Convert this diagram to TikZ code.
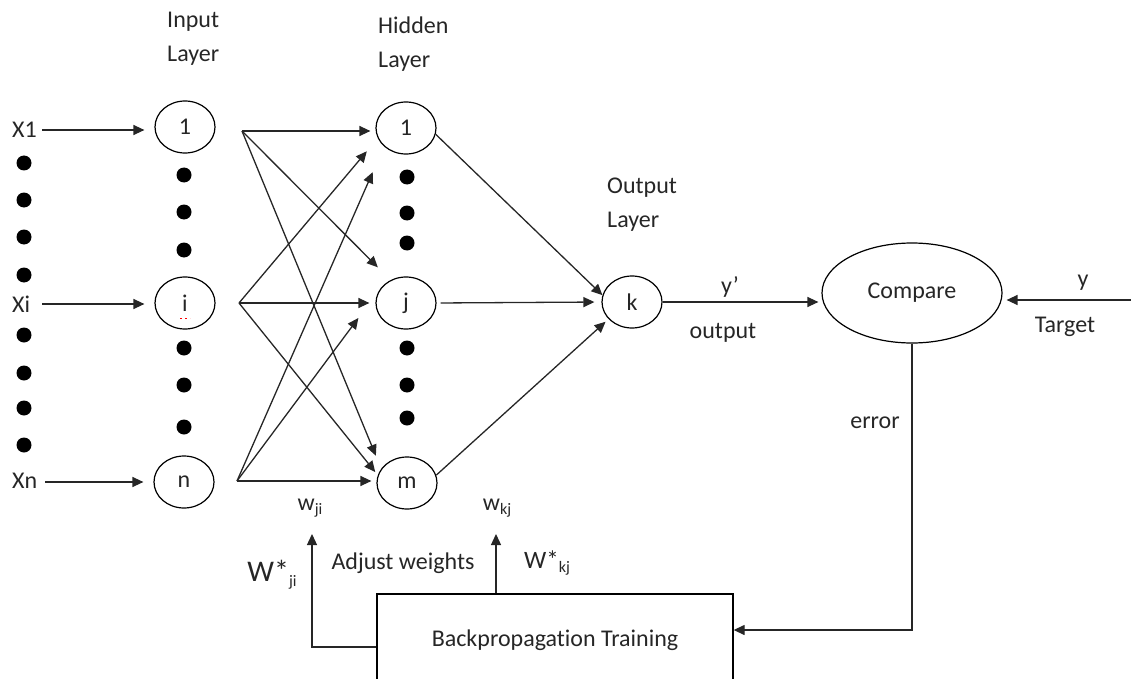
\documentclass[tikz,border=0pt]{standalone}
\usepackage{fontspec}
\setmainfont[Ligatures=NoCommon]{Carlito}
\usetikzlibrary{arrows.meta,shapes.geometric,calc}
% lowered small text for index subscripts
\newcommand\lowidx[1]{\raisebox{-0.35ex}{\fontsize{16}{16}\selectfont #1}}
\begin{document}
\begin{tikzpicture}[x=1pt,y=-1pt,
  every node/.style={font=\fontsize{24}{34}\selectfont, inner sep=0pt, text=black!85},
  unit/.style={draw, ellipse, minimum width=60, minimum height=52, line width=1.2pt},
  arr/.style={line width=1.3pt, draw=black!85, -{Triangle[length=11pt,width=10pt]}},
  dot/.style={circle, fill=black, minimum size=15, inner sep=0pt},
  lbl/.style={align=left, anchor=west},
]
\useasboundingbox (0,0) rectangle (1131,679);

% layer titles
\node[lbl] (inlab)  at (167,39)    {Input\\Layer};
\node[lbl] (hidlab) at (378,44)    {Hidden\\Layer};
\node[lbl] (outlab) at (607,204.5) {Output\\Layer};

% input signals
\node[anchor=west] (x1) at (12,130) {X1};
\node[anchor=west] (xi) at (12,304) {Xi};
\node[anchor=west] (xn) at (12,481) {Xn};

% input units
\node[unit] (i1) at (185,127) {1};
\node[unit] (ii) at (185,303) {i};
\node[unit] (in) at (184,482) {n};
\draw[red, line width=1pt, dash pattern=on 2pt off 3pt] (180,318) -- (190,318);

% hidden units
\node[unit] (h1) at (406,128) {1};
\node[unit] (hj) at (406,303) {j};
\node[unit] (hm) at (407,483) {m};

% output unit and comparator
\node[unit] (k) at (632,302) {k};
\node[draw, ellipse, minimum width=180, minimum height=100, line width=1.2pt] (cmp) at (912,293) {Compare};

% training block
\node[draw, line width=1.3pt, minimum width=356, minimum height=92] (bp) at (555,640) {Backpropagation Training};

% ellipsis dots
\foreach \y [count=\n] in {163,200,237,275,335,373,408,445}
  \node[dot] (ld\n) at (24,\y) {};
\foreach \y [count=\n] in {175,212,250,348,385,427}
  \node[dot] (id\n) at (184,\y) {};
\foreach \y [count=\n] in {177,213,243,348,385,418}
  \node[dot] (hd\n) at (407,\y) {};

% input arrows
\coordinate (sx1) at (42,130);
\coordinate (sxi) at (42,304);
\coordinate (sxn) at (45,482);
\draw[arr, shorten >=10pt] (sx1) -- (sx1 -| i1.west);
\draw[arr, shorten >=10pt] (sxi) -- (sxi -| ii.west);
\draw[arr, shorten >=10pt] (sxn) -- (sxn -| in.west);

% fan-out points right of each input unit
\coordinate (o1) at (242,131);
\coordinate (oi) at (239,303);
\coordinate (on) at (237,481);

% input -> hidden weights
\draw[arr, shorten >=5pt]  (o1) -- (o1 -| h1.west);
\draw[arr, shorten >=18pt] (o1) -- (hj.124);
\draw[arr, shorten >=14pt] (o1) -- (hm.151);
\draw[arr, shorten >=17pt] (oi) -- (h1.200);
\draw[arr, shorten >=6pt]  (oi) -- (oi -| hj.west);
\draw[arr, shorten >=4pt]  (oi) -- (hm.165);
\draw[arr, shorten >=28pt] (on) -- (h1.220);
\draw[arr, shorten >=37pt] (on) -- (hj.150);
\draw[arr, shorten >=5pt]  (on) -- (on -| hm.west);

% hidden -> output
\draw[arr] (h1.348) -- (k.167);
\draw[arr, shorten <=4pt, shorten >=7pt] (hj.east) -- (k.west);
\draw[arr, shorten >=4pt] (hm.15) -- (k.216);

% output -> comparator, target -> comparator
\draw[arr, shorten >=3pt] (k.east) -- (k.east -| cmp.west);
\coordinate (tgt) at (1131,300);
\draw[arr, shorten >=4pt] (tgt) -- (tgt -| cmp.east);

% error feedback to training block
\draw[arr] (cmp.south) |- ($(bp.east)+(0,-10)$);

% weight updates
\coordinate (wjitip) at (312,534);
\coordinate (wkjtip) at (496,534);
\draw[arr] ($(bp.west)+(0,7)$) -| (wjitip);
\draw[arr] (wkjtip |- bp.north) -- (wkjtip);

% labels
\node (yp)   at (730,287) {y’};
\node (outt) at (723,333) {output};
\node (yt)   at (1083,283) {y};
\node (tg)   at (1065,327) {Target};
\node (err)  at (875,423) {error};
\node (adj)  at (403,563) {Adjust weights};
\node (wji)  at (310,508) {w\lowidx{ji}};
\node (wkj)  at (497,508) {w\lowidx{kj}};
\node[font=\fontsize{30}{30}\selectfont] (wsji) at (272,575) {W*\lowidx{ji}};
\node[font=\fontsize{25}{25}\selectfont] (wskj) at (547,563) {W*\lowidx{kj}};
\end{tikzpicture}
\end{document}
